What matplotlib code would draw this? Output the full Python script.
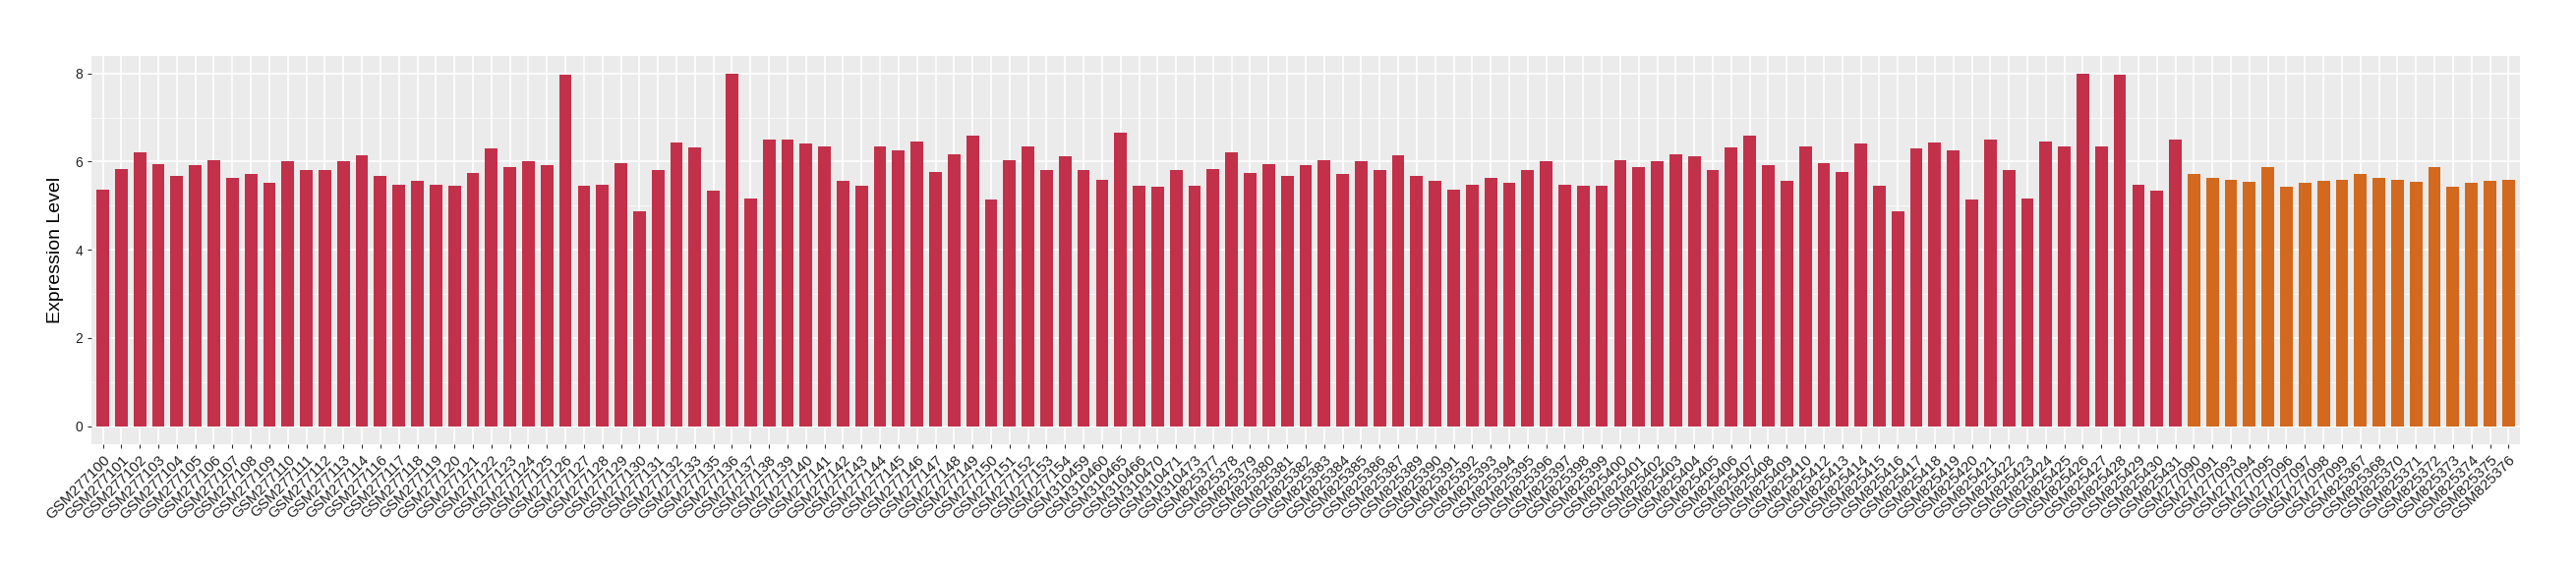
import matplotlib
matplotlib.use('Agg')
import matplotlib.pyplot as plt
from matplotlib.ticker import MultipleLocator

# group 1 (red bars)
group1_samples = [
    "GSM277100", "GSM277101", "GSM277102", "GSM277103", "GSM277104", "GSM277105",
    "GSM277106", "GSM277107", "GSM277108", "GSM277109", "GSM277110", "GSM277111",
    "GSM277112", "GSM277113", "GSM277114", "GSM277116", "GSM277117", "GSM277118",
    "GSM277119", "GSM277120", "GSM277121", "GSM277122", "GSM277123", "GSM277124",
    "GSM277125", "GSM277126", "GSM277127", "GSM277128", "GSM277129", "GSM277130",
    "GSM277131", "GSM277132", "GSM277133", "GSM277135", "GSM277136", "GSM277137",
    "GSM277138", "GSM277139", "GSM277140", "GSM277141", "GSM277142", "GSM277143",
    "GSM277144", "GSM277145", "GSM277146", "GSM277147", "GSM277148", "GSM277149",
    "GSM277150", "GSM277151", "GSM277152", "GSM277153", "GSM277154",
    "GSM310459", "GSM310460", "GSM310465", "GSM310466", "GSM310470", "GSM310471",
    "GSM310473",
    "GSM825377", "GSM825378", "GSM825379", "GSM825380", "GSM825381", "GSM825382",
    "GSM825383", "GSM825384", "GSM825385", "GSM825386", "GSM825387", "GSM825389",
    "GSM825390", "GSM825391", "GSM825392", "GSM825393", "GSM825394", "GSM825395",
    "GSM825396", "GSM825397", "GSM825398", "GSM825399", "GSM825400", "GSM825401",
    "GSM825402", "GSM825403", "GSM825404", "GSM825405", "GSM825406", "GSM825407",
    "GSM825408", "GSM825409", "GSM825410", "GSM825412", "GSM825413", "GSM825414",
    "GSM825415", "GSM825416", "GSM825417", "GSM825418", "GSM825419", "GSM825420",
    "GSM825421", "GSM825422", "GSM825423", "GSM825424", "GSM825425", "GSM825426",
    "GSM825427", "GSM825428", "GSM825429", "GSM825430", "GSM825431",
]
group1_values = [
    5.37, 5.84, 6.20, 5.95, 5.68, 5.91, 6.04, 5.64, 5.73, 5.53, 6.00, 5.80,
    5.80, 6.00, 6.15, 5.68, 5.48, 5.57, 5.48, 5.46, 5.75, 6.29, 5.88, 6.02,
    5.91, 7.98, 5.46, 5.48, 5.97, 4.88, 5.82, 6.44, 6.33, 5.35, 8.00, 5.17,
    6.49, 6.51, 6.42, 6.35, 5.57, 5.46, 6.35, 6.26, 6.46, 5.77, 6.17, 6.58,
    5.13, 6.04, 6.35, 5.80, 6.13,
    5.80, 5.59, 6.66, 5.46, 5.42, 5.80, 5.46,
    5.84, 6.20, 5.75, 5.95, 5.68, 5.91, 6.04, 5.73, 6.00, 5.80, 6.15, 5.68,
    5.57, 5.37, 5.48, 5.64, 5.53, 5.80, 6.00, 5.48, 5.46, 5.46, 6.04, 5.88,
    6.02, 6.17, 6.13, 5.82, 6.33, 6.58, 5.91, 5.57, 6.35, 5.97, 5.77, 6.42,
    5.46, 4.88, 6.29, 6.44, 6.26, 5.13, 6.49, 5.80, 5.17, 6.46, 6.35, 8.00,
    6.35, 7.98, 5.48, 5.35, 6.51,
]

# group 2 (orange bars)
group2_samples = [
    "GSM277090", "GSM277091", "GSM277093", "GSM277094", "GSM277095", "GSM277096",
    "GSM277097", "GSM277098", "GSM277099", "GSM825367", "GSM825368", "GSM825370",
    "GSM825371", "GSM825372", "GSM825373", "GSM825374", "GSM825375", "GSM825376",
]
group2_values = [
    5.73, 5.64, 5.59, 5.55, 5.88, 5.44, 5.51, 5.57, 5.59,
    5.73, 5.64, 5.59, 5.55, 5.88, 5.44, 5.51, 5.57, 5.59,
]

color1 = '#C3304A'
color2 = '#D2691E'

plt.rcParams['font.family'] = ['Liberation Sans', 'DejaVu Sans']

samples = group1_samples + group2_samples
values = group1_values + group2_values
colors = [color1] * len(group1_samples) + [color2] * len(group2_samples)
xpos = list(range(len(samples)))

fig = plt.figure(figsize=(26.2, 5.8), dpi=100)
ax = fig.add_axes([0.0356, 0.2212, 0.9425, 0.681])
ax.set_facecolor('#EBEBEB')

ax.bar(xpos, values, width=0.68, color=colors, zorder=2)

ax.set_xlim(-0.6, len(samples) - 0.4)
ax.set_ylim(-0.4, 8.4)
ax.set_yticks([0, 2, 4, 6, 8])
ax.yaxis.set_minor_locator(MultipleLocator(1))
ax.set_xticks(xpos)
ax.set_xticklabels(samples, rotation=45, ha='right', va='top',
                   rotation_mode='anchor', fontsize=11, color='#222222')
ax.tick_params(axis='y', labelsize=10, labelcolor='#222222')
ax.tick_params(axis='both', which='major', length=3, width=0.8, color='#333333')
ax.tick_params(axis='y', which='minor', length=0)

ax.grid(which='major', color='white', linewidth=1.2, zorder=0)
ax.grid(which='minor', axis='y', color='white', linewidth=0.5, zorder=0)
ax.set_axisbelow(True)
for s in ax.spines.values():
    s.set_visible(False)

ax.set_ylabel('Expression Level', fontsize=14, labelpad=8)

plt.savefig('out.png', dpi=100)
